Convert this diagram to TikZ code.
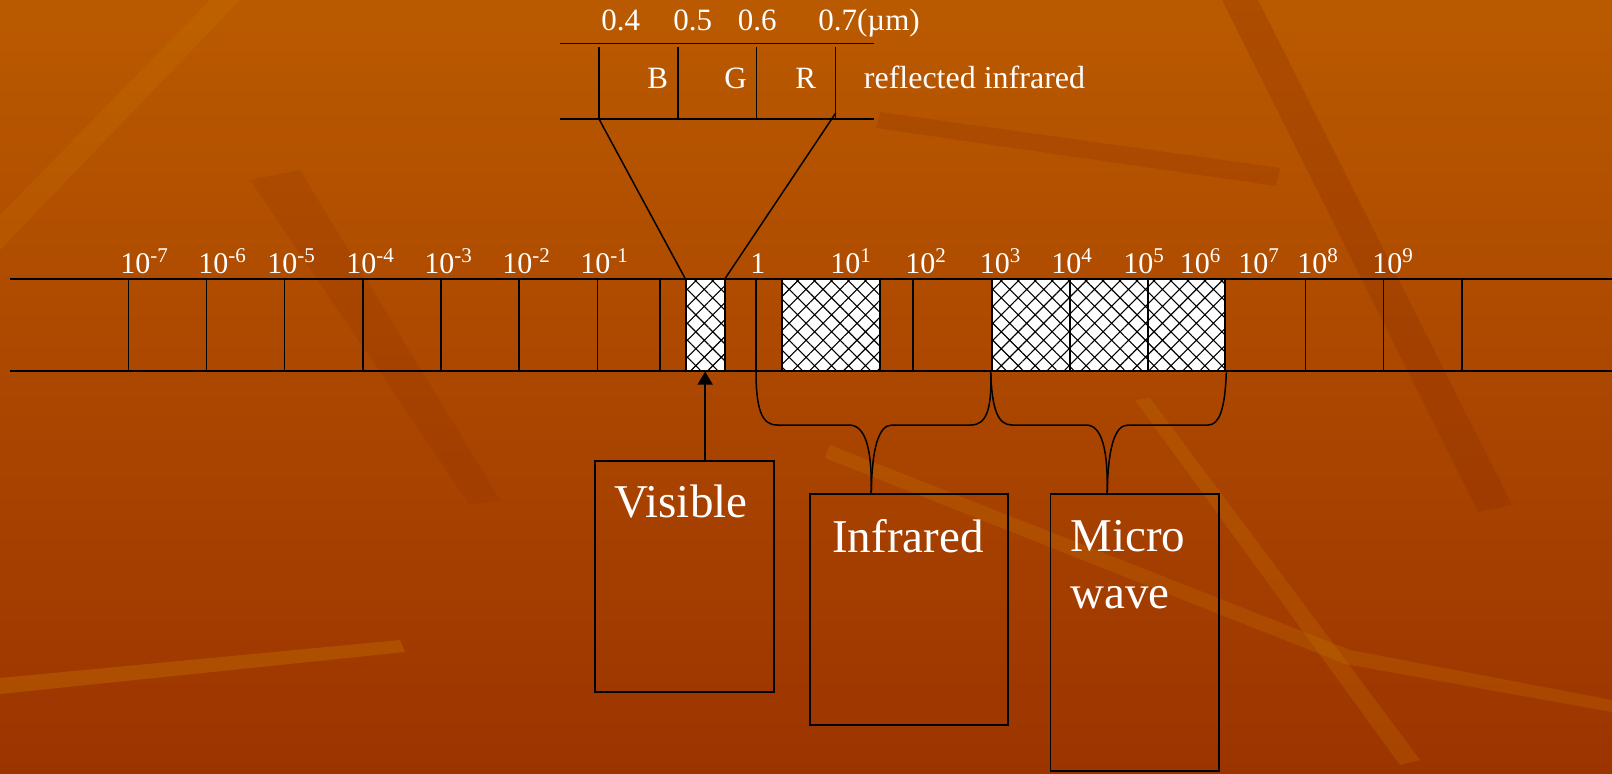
\documentclass[tikz,border=0pt]{standalone}
\usepackage{fontspec}
\setmainfont{Liberation Serif}
\usetikzlibrary{positioning,arrows.meta,patterns.meta,fit,calc}
\definecolor{bgtop}{RGB}{186,90,0}
\definecolor{bgbot}{RGB}{156,52,0}
\definecolor{streakdk}{RGB}{140,44,0}
\definecolor{streaklt}{RGB}{206,128,0}
\tikzset{
  band/.style={line width=0.75pt},
  cell/.style={draw,line width=1pt,inner sep=0pt,preaction={fill=white},pattern={Hatch[angle=45,distance=6pt,line width=0.55pt]},pattern color=black},
  outbox/.style={draw,line width=0.8pt,inner sep=0pt},
  sclab/.style={text=white,font=\fontsize{15}{18}\selectfont,anchor=base west,inner sep=0pt},
  toplab/.style={text=white,font=\fontsize{15.5}{18}\selectfont,anchor=base west,inner sep=0pt},
  bigtxt/.style={text=white,font=\fontsize{23.5}{28.3}\selectfont,inner sep=0pt},
  arr/.style={-{Triangle[length=6.5pt,width=7.5pt]},line width=0.8pt},
  brace/.style={line width=0.75pt},
}
\begin{document}
\begin{tikzpicture}[x=0.5pt,y=-0.5pt]
  % background
  \fill[top color=bgtop,bottom color=bgbot] (0,0) rectangle (1612,773);
  \useasboundingbox (0,0) rectangle (1612,773);
  \fill[streakdk,opacity=0.28] (1222,0) -- (1258,0) -- (1512,505) -- (1478,512) -- cycle;
  \fill[streakdk,opacity=0.22] (880,112) -- (1280,168) -- (1276,186) -- (876,128) -- cycle;
  \fill[streakdk,opacity=0.18] (250,180) -- (300,170) -- (500,500) -- (470,505) -- cycle;
  \fill[streaklt,opacity=0.3] (0,678) -- (400,640) -- (405,652) -- (0,694) -- cycle;
  \fill[streaklt,opacity=0.22] (830,445) -- (1350,650) -- (1612,700) -- (1612,712) -- (1345,664) -- (825,458) -- cycle;
  \fill[streaklt,opacity=0.22] (1135,400) -- (1150,398) -- (1420,760) -- (1400,765) -- cycle;
  \fill[streaklt,opacity=0.18] (0,215) -- (210,0) -- (240,0) -- (0,250) -- cycle;

  % spectrum band
  \draw[band] (10,279) -- (1612,279);
  \draw[band] (10,371) -- (1612,371);
  \foreach \x in {128.5,206.6,284.7,362.8,441,519,597.5,660,756,913,1305.5,1383.7,1462}
    \draw[band] (\x,279) -- (\x,371);

  % hatched windows
  \node[cell,fit={(685.7,279) (724.6,371)}] (viscell) {};
  \node[cell,fit={(781.6,279) (879.6,371)}] (ircell) {};
  \node[cell,line width=1.3pt,fit={(992,279) (1070,371)}] (mwa) {};
  \node[cell,line width=1.3pt,fit={(1070,279) (1148,371)}] (mwb) {};
  \node[cell,line width=1.3pt,fit={(1148,279) (1225,371)}] (mwc) {};

  % scale labels
  \node[sclab] (e7m) at (120,273) {10\textsuperscript{-7}};
  \node[sclab] (e6m) at (198,273) {10\textsuperscript{-6}};
  \node[sclab] (e5m) at (267,273) {10\textsuperscript{-5}};
  \node[sclab] (e4m) at (346,273) {10\textsuperscript{-4}};
  \node[sclab] (e3m) at (424,273) {10\textsuperscript{-3}};
  \node[sclab] (e2m) at (502,273) {10\textsuperscript{-2}};
  \node[sclab] (e1m) at (580,273) {10\textsuperscript{-1}};
  \node[sclab] (e0) at (750,273) {1};
  \node[sclab] (e1) at (830,273) {10\textsuperscript{1}};
  \node[sclab] (e2) at (905,273) {10\textsuperscript{2}};
  \node[sclab] (e3) at (979.5,273) {10\textsuperscript{3}};
  \node[sclab] (e4) at (1051,273) {10\textsuperscript{4}};
  \node[sclab] (e5) at (1123,273) {10\textsuperscript{5}};
  \node[sclab] (e6) at (1179.5,273) {10\textsuperscript{6}};
  \node[sclab] (e7) at (1238,273) {10\textsuperscript{7}};
  \node[sclab] (e8) at (1297,273) {10\textsuperscript{8}};
  \node[sclab] (e9) at (1372,273) {10\textsuperscript{9}};

  % enlarged visible band
  \draw[band] (560,43.3) -- (874,43.3);
  \draw[band] (560,119) -- (874,119);
  \foreach \x in {599,678,756.5,835.7}
    \draw[band] (\x,47) -- (\x,120);
  \node[toplab] (w4) at (601,30.7) {0.4};
  \node[toplab] (w5) at (673,30.7) {0.5};
  \node[toplab] (w6) at (737.5,30.7) {0.6};
  \node[toplab] (w7) at (818,30.7) {0.7(µm)};
  \node[toplab] (blue) at (647,88) {B};
  \node[toplab] (green) at (724,88) {G};
  \node[toplab] (red) at (795,88) {R};
  \node[toplab,font=\fontsize{16}{19}\selectfont] (rir) at (863.5,88) {reflected infrared};
  \coordinate (zl) at (599,119);
  \coordinate (zr) at (835.7,113);
  \draw[band] (zl) -- (viscell.north west);
  \draw[band] (zr) -- (viscell.north east);

  % region boxes
  \node[outbox,fit={(594.7,461) (774,692)}] (visbox) {};
  \node[outbox,fit={(810,493.7) (1008,725)}] (irbox) {};
  \node[outbox,fit={(1050.5,493.7) (1219,771)}] (mwbox) {};
  \node[bigtxt,anchor=base] (vistxt) at (681,517) {Visible};
  \node[bigtxt,anchor=base] (irtxt) at (908,552) {Infrared};
  \node[bigtxt,anchor=north west,align=left] (mwtxt) at (1070,520) {Micro\\wave};

  % connectors
  \draw[arr] (viscell.south |- visbox.north) -- (viscell.south);
  \coordinate (one) at (756,371);
  \coordinate (irjoin) at ($(irbox.north west)+(62,0)$);
  \coordinate (mwjoin) at ($(mwbox.north west)+(57.5,0)$);
  \draw[brace] (one) .. controls (756,410) and (762,425) .. (777,425) -- (849,425)
    .. controls (866,425) and (872,450) .. (irjoin);
  \draw[brace] (mwa.south west) .. controls (992,410) and (986,425) .. (971,425) -- (892,425)
    .. controls (878,425) and (872,450) .. (irjoin);
  \draw[brace] (mwa.south west) .. controls (992,410) and (998,425) .. (1012,425) -- (1086,425)
    .. controls (1102,425) and (1108,450) .. (mwjoin);
  \draw[brace] (mwc.south east) .. controls (1225,410) and (1219,425) .. (1208,425) -- (1128,425)
    .. controls (1114,425) and (1108,450) .. (mwjoin);
\end{tikzpicture}
\end{document}
